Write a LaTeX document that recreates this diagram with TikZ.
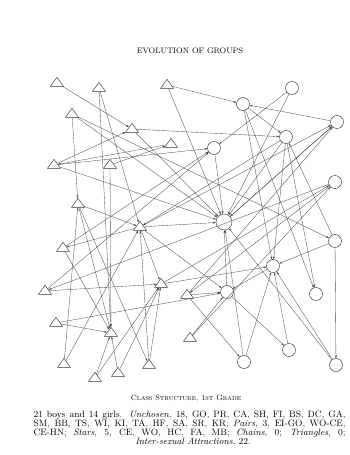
\documentclass[tikz,border=0pt]{standalone}
\usepackage{fontspec}
\usetikzlibrary{shapes.geometric,arrows.meta}
\begin{document}
\begin{tikzpicture}[x=1pt,y=-1pt,
  boy/.style={isosceles triangle, shape border rotate=90, isosceles triangle stretches, minimum width=13pt, minimum height=9pt, draw=black!80, line width=0.45pt, inner sep=0pt},
  girl/.style={circle, draw=black!80, line width=0.45pt, minimum size=13pt, inner sep=0pt},
  ch/.style={-{Stealth[length=3pt,width=2pt]}, line width=0.33pt, draw=black!70}]
\useasboundingbox (0,0) rectangle (350,455);
\fill[white] (0,0) rectangle (350,455);
% title
\node[anchor=base] (title) at (190,53) {\fontsize{8}{9}\selectfont\addfontfeatures{LetterSpace=12}EVOLUTION OF GROUPS};
% boys
\node[boy] (ta) at (57,83) {};
\node[boy] (tb) at (99,88) {};
\node[boy] (tc) at (167,85) {};
\node[boy] (td) at (72,114) {};
\node[boy] (te) at (132,129) {};
\node[boy] (tf) at (171,144) {};
\node[boy] (tg) at (54,165) {};
\node[boy] (th) at (110,165) {};
\node[boy] (ti) at (78,204) {};
\node[boy] (tj) at (140,227) {};
\node[boy] (tk) at (63,248) {};
\node[boy] (tl) at (161,284) {};
\node[boy] (tm) at (45,291) {};
\node[boy] (tn) at (56,323) {};
\node[boy] (to) at (111,333) {};
\node[boy] (tp) at (64,364) {};
\node[boy] (tq) at (95,378) {};
\node[boy] (tr) at (118,373) {};
\node[boy] (ts) at (149,365) {};
\node[boy] (tt) at (187,295) {};
\node[boy] (tu) at (190,338) {};
% girls
\node[girl] (gA) at (292,88) {};
\node[girl] (gB) at (243,104) {};
\node[girl] (gC) at (337,122) {};
\node[girl] (gD) at (286,137) {};
\node[girl] (gE) at (214,148) {};
\node[girl] (gF) at (335,182) {};
\node[girl, minimum size=16pt] (gG) at (224,222) {};
\node[girl] (gH) at (335,241) {};
\node[girl] (gI) at (273,266) {};
\node[girl] (gJ) at (227,292) {};
\node[girl] (gK) at (316,294) {};
\node[girl] (gL) at (289,350) {};
\node[girl] (gM) at (244,362) {};
\node[girl] (gN) at (336,365) {};
% choices
\draw[ch] (ta) -- (te);
\draw[ch] (tb) -- (to);
\draw[ch] (tb) -- (tj);
\draw[ch] (tc) -- (gB);
\draw[ch] (tc) -- (gG);
\draw[ch] (td) -- (ti);
\draw[ch] (td) -- (gG);
\draw[ch] (td) -- (gH);
\draw[ch] (te) -- (gD);
\draw[ch] (te) -- (gG);
\draw[ch] (tg) -- (te);
\draw[ch] (tf) -- (tg);
\draw[ch] (th) -- (tf);
\draw[ch] (tg) -- (gE);
\draw[ch] (tg) -- (gG);
\draw[ch] (th) -- (to);
\draw[ch] (ti) -- (tj);
\draw[ch] (ti) -- (ts);
\draw[ch] (ti) -- (to);
\draw[ch] (tp) -- (ti);
\draw[ch] (tk) -- (gE);
\draw[ch] (tm) -- (gE);
\draw[ch] (gA) -- (gG);
\draw[ch] (gA) -- (gE);
\draw[ch] (gC) -- (gB);
\draw[ch] (gB) -- (gD);
\draw[ch] (gC) -- (gG);
\draw[ch] (gD) -- (gG);
\draw[ch] (gE) -- (gG);
\draw[ch] (gD) -- (gI);
\draw[ch] (gB) -- (gI);
\draw[ch] (gB) -- (gK);
\draw[ch] (gD) -- (gK);
\draw[ch] (gH) -- (gD);
\draw[ch] (gH) -- (gI);
\draw[ch] (tm) -- (tl);
\draw[ch] (tn) -- (gJ);
\draw[ch] (tn) -- (to);
\draw[ch] (tk) -- (to);
\draw[ch] (tp) -- (tj);
\draw[ch] (tq) -- (to);
\draw[ch] (tq) -- (tl);
\draw[ch] (tr) -- (tl);
\draw[ch] (tr) -- (to);
\draw[ch] (ts) -- (tl);
\draw[ch] (ts) -- (tj);
\draw[ch] (tj) -- (gG);
\draw[ch] (tj) -- (tl);
\draw[ch] (tj) -- (gJ);
\draw[ch] (tj) -- (tk);
\draw[ch] (tj) -- (gC);
\draw[ch] (gD) -- (tj);
\draw[ch] (gF) -- (tm);
\draw[ch] (gJ) -- (gG);
\draw[ch] (tu) -- (gJ);
\draw[ch] (tt) -- (gM);
\draw[ch] (tt) -- (gJ);
\draw[ch] (gN) -- (gG);
\draw[ch] (gM) -- (gI);
\draw[ch] (gM) -- (gG);
\draw[ch] (gL) -- (gI);
\draw[ch] (gN) -- (gI);
\draw[ch] (gI) -- (gJ);
\draw[ch] (gJ) -- (gL);
\draw[ch] (gF) -- (tt);
\draw[ch] (tl) -- (gI);
\draw[ch] (tu) -- (gF);
\draw[ch] (tl) -- (gF);
\draw[ch] (gG) -- (gC);
\draw[ch] (tt) -- (gC);
\draw[ch] (gH) -- (gN);
% caption
\node[anchor=base] (cap) at (186,400) {\fontsize{7.6}{8}\selectfont\textsc{Class Structure, 1st Grade}};
\node[anchor=base west] (l1) at (30,417) {\fontsize{9.2}{9.2}\selectfont\makebox[312pt][s]{21 boys and 14 girls. \textit{Unchosen}, 18, GO, PR, CA, SH, FI, BS, DC, GA,}};
\node[anchor=base west] (l2) at (30,426.3) {\fontsize{9.2}{9.2}\selectfont\makebox[312pt][s]{SM, BB, TS, WI, KI, TA, HF, SA, SR, KR; \textit{Pairs}, 3, EI-GO, WO-CE,}};
\node[anchor=base west] (l3) at (30,435.5) {\fontsize{9.2}{9.2}\selectfont\makebox[312pt][s]{CE-HN; \textit{Stars}, 5, CE, WO, HC, FA, MB; \textit{Chains}, 0; \textit{Triangles}, 0;}};
\node[anchor=base] (l4) at (193,444.7) {\fontsize{9.2}{9.2}\selectfont\textit{Inter-sexual Attractions}, 22.};
\end{tikzpicture}
\end{document}
